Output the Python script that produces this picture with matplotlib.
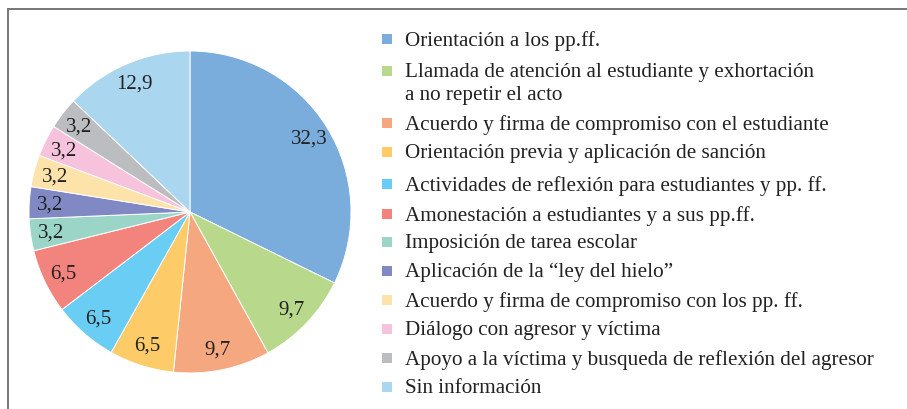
import matplotlib.pyplot as plt
from matplotlib.patches import Rectangle
from matplotlib.lines import Line2D

plt.rcParams['font.family'] = ['Liberation Serif', 'DejaVu Serif']

# medidas tomadas y su porcentaje
labels = [
    "Orientación a los pp.ff.",
    "Llamada de atención al estudiante y exhortación\na no repetir el acto",
    "Acuerdo y firma de compromiso con el estudiante",
    "Orientación previa y aplicación de sanción",
    "Actividades de reflexión para estudiantes y pp. ff.",
    "Amonestación a estudiantes y a sus pp.ff.",
    "Imposición de tarea escolar",
    "Aplicación de la \u201cley del hielo\u201d",
    "Acuerdo y firma de compromiso con los pp. ff.",
    "Diálogo con agresor y víctima",
    "Apoyo a la víctima y busqueda de reflexión del agresor",
    "Sin información",
]
values = [32.3, 9.7, 9.7, 6.5, 6.5, 6.5, 3.2, 3.2, 3.2, 3.2, 3.2, 12.9]
colors = ["#7aacdc", "#b8d98b", "#f5a880", "#fdcb67", "#69cdf4", "#f2837d",
          "#9ad5c7", "#8089c4", "#fde2aa", "#f7c2db", "#bcbdc0", "#aad6f0"]

W, H = 907, 410
fig = plt.figure(figsize=(W / 100, H / 100), dpi=100)

# marco gris (abierto por la derecha y abajo)
fig.add_artist(Line2D([8 / W, 1], [1 - 10 / H, 1 - 10 / H], color="#777777", lw=1.4))
fig.add_artist(Line2D([8 / W, 8 / W], [0, 1 - 10 / H], color="#777777", lw=1.4))

cx, cy, r = 190, 213, 161
ax = fig.add_axes([(cx - r) / W, 1 - (cy + r) / H, 2 * r / W, 2 * r / H])
wedges, texts = ax.pie(values, colors=colors, startangle=90, counterclock=False,
                       labels=[f"{v:.1f}".replace(".", ",") for v in values],
                       labeldistance=0.87,
                       wedgeprops=dict(edgecolor="white", linewidth=0.7),
                       textprops=dict(fontsize=15, color="#222222",
                                      ha="center", va="center"))
for t in texts:
    t.set_horizontalalignment("center")
ax.set_xlim(-1, 1)
ax.set_ylim(-1, 1)
ax.set_aspect("equal")

# leyenda
row_y = [40, 72, 124, 153, 185, 215, 243, 272, 301, 330, 359, 388]
for lab, col, y in zip(labels, colors, row_y):
    fig.add_artist(Rectangle(((387 - 5) / W, 1 - (y + 5) / H), 10 / W, 10 / H,
                             transform=fig.transFigure, color=col, lw=0))
    fig.text(405 / W, 1 - (y - 9) / H, lab, fontsize=15.2, color="#222222",
             va="top", ha="left", linespacing=1.3)

fig.savefig("out.png", dpi=100)
